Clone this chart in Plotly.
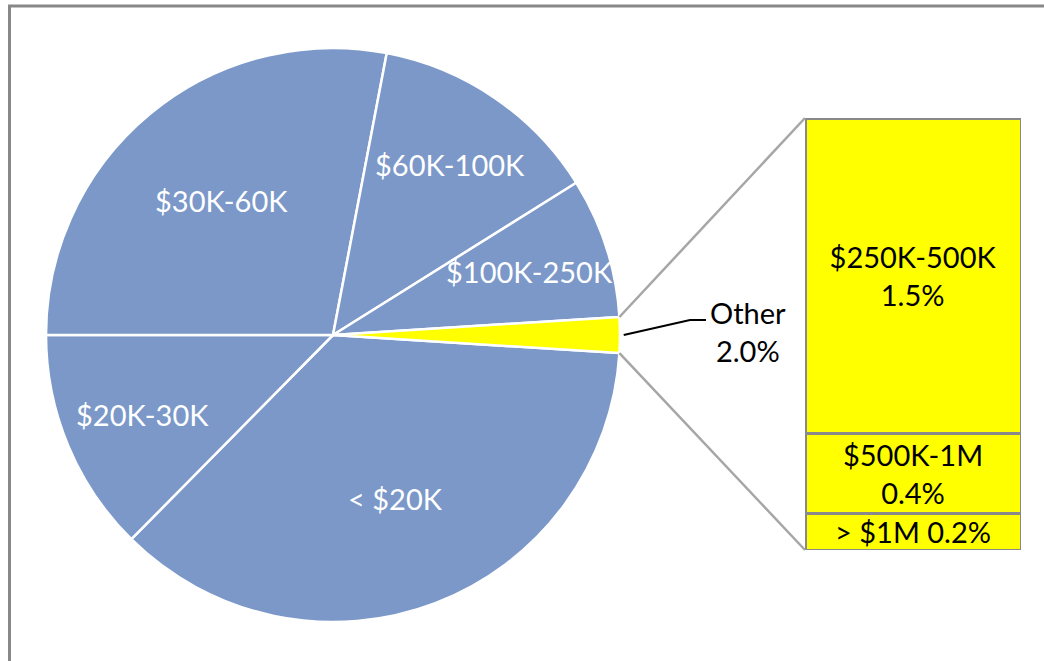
import math
import plotly.graph_objects as go

# ---- data ----
pie_labels = ["< $20K", "$20K-30K", "$30K-60K", "$60K-100K", "$100K-250K", "Other"]
pie_values = [36.4, 12.6, 28.0, 13.1, 7.9, 2.0]
bar_labels = ["$250K-500K", "$500K-1M", "> $1M"]
bar_values = [1.46, 0.37, 0.17]

W, H = 1044, 661
BLUE = "#7B98C9"
YELLOW = "#FFFF00"
FONT = "Lato"
FS = 29


def px2paper(x, y):
    """pixel -> paper coords"""
    return x / W, (H - y) / H


# pie geometry (pixels)
pcx, pcy, pr = 333, 335, 287
(px0, py0), (px1, py1) = px2paper(pcx - pr, pcy + pr), px2paper(pcx + pr, pcy - pr)
pie_dom_x = [px0, px1]
pie_dom_y = [py0, py1]

# bar geometry (pixels)
bx0, bx1, by0, by1 = 805, 1021, 118, 550
(bdx0, bdy0), (bdx1, bdy1) = px2paper(bx0, by1), px2paper(bx1, by0)
bar_dom_x = [bdx0, bdx1]
bar_dom_y = [bdy0, bdy1]

other_val = pie_values[-1]
half_angle = other_val / 2 * 3.6
rotation = 90 + half_angle

fig = go.Figure()

fig.add_trace(go.Pie(
    labels=pie_labels,
    values=pie_values,
    sort=False,
    direction="clockwise",
    rotation=rotation,
    domain=dict(x=pie_dom_x, y=pie_dom_y),
    marker=dict(colors=[BLUE] * (len(pie_values) - 1) + [YELLOW],
                line=dict(color="white", width=2.5)),
    textinfo="none",
    showlegend=False,
    hoverinfo="label+percent",
))

# pie slice labels placed at slice mid-angle
annotations = []
total_pie = sum(pie_values)
start = 90 - rotation  # math angle of first slice start (deg, ccw from east)
cum = 0.0
for lab, val in zip(pie_labels[:-1], pie_values[:-1]):
    mid = start - (cum + val / 2) / total_pie * 360
    cum += val
    frac = 0.61 if val > 20 else 0.72
    x = pcx + frac * pr * math.cos(math.radians(mid))
    y = pcy - frac * pr * math.sin(math.radians(mid))
    ax_, ay_ = px2paper(x, y)
    annotations.append(dict(xref="paper", yref="paper", x=ax_, y=ay_, text=lab,
                            showarrow=False, xanchor="center", yanchor="middle",
                            font=dict(family=FONT, size=FS, color="white")))

total_bar = sum(bar_values)
for lab, val in reversed(list(zip(bar_labels, bar_values))):
    sep = " " if val < 0.3 else "<br>"
    fig.add_trace(go.Bar(
        x=[0], y=[val],
        width=1,
        marker=dict(color=YELLOW, line=dict(color="#898989", width=3)),
        text=[f"{lab}{sep}{val:.1f}%"],
        textposition="inside",
        insidetextanchor="middle",
        constraintext="none",
        textangle=0,
        insidetextfont=dict(family=FONT, size=FS, color="black"),
        showlegend=False,
        xaxis="x", yaxis="y",
    ))

# connector lines from the Other slice edges to the bar corners
t = math.radians(half_angle)
top_pt = px2paper(pcx + pr * math.cos(t), pcy - pr * math.sin(t))
bot_pt = px2paper(pcx + pr * math.cos(t), pcy + pr * math.sin(t))
shapes = [
    dict(type="line", xref="paper", yref="paper",
         x0=top_pt[0], y0=top_pt[1], x1=bar_dom_x[0], y1=bar_dom_y[1],
         line=dict(color="#A6A6A6", width=2.5)),
    dict(type="line", xref="paper", yref="paper",
         x0=bot_pt[0], y0=bot_pt[1], x1=bar_dom_x[0], y1=bar_dom_y[0],
         line=dict(color="#A6A6A6", width=2.5)),
]

# leader line for "Other" label
s = px2paper(pcx + pr * 1.013, pcy)
m = px2paper(690, 320)
e = px2paper(706, 320)
shapes.append(dict(type="path", xref="paper", yref="paper",
                   path=f"M {s[0]},{s[1]} L {m[0]},{m[1]} L {e[0]},{e[1]}",
                   line=dict(color="black", width=2)))

# outer frame
fx0, fy1 = px2paper(9.5, 6)
shapes.append(dict(type="rect", xref="paper", yref="paper",
                   x0=fx0, y0=-0.05, x1=1.05, y1=fy1,
                   line=dict(color="#888888", width=3), layer="above"))

lx, ly = px2paper(748, 331)
annotations.append(dict(xref="paper", yref="paper", x=lx, y=ly,
                        text=f"{pie_labels[-1]}<br>{other_val:.1f}%",
                        showarrow=False, xanchor="center", yanchor="middle",
                        font=dict(family=FONT, size=FS, color="black")))

fig.update_layout(
    width=W, height=H, autosize=False,
    margin=dict(l=0, r=0, t=0, b=0),
    paper_bgcolor="white", plot_bgcolor="rgba(0,0,0,0)",
    barmode="stack",
    xaxis=dict(domain=bar_dom_x, range=[-0.5, 0.5], visible=False, fixedrange=True),
    yaxis=dict(domain=bar_dom_y, range=[0, total_bar], visible=False, fixedrange=True),
    shapes=shapes,
    annotations=annotations,
    font=dict(family=FONT),
)

fig.write_html("out.html",
               config={"displayModeBar": False},
               post_script="document.body.style.margin='0';document.body.style.overflow='hidden';")
